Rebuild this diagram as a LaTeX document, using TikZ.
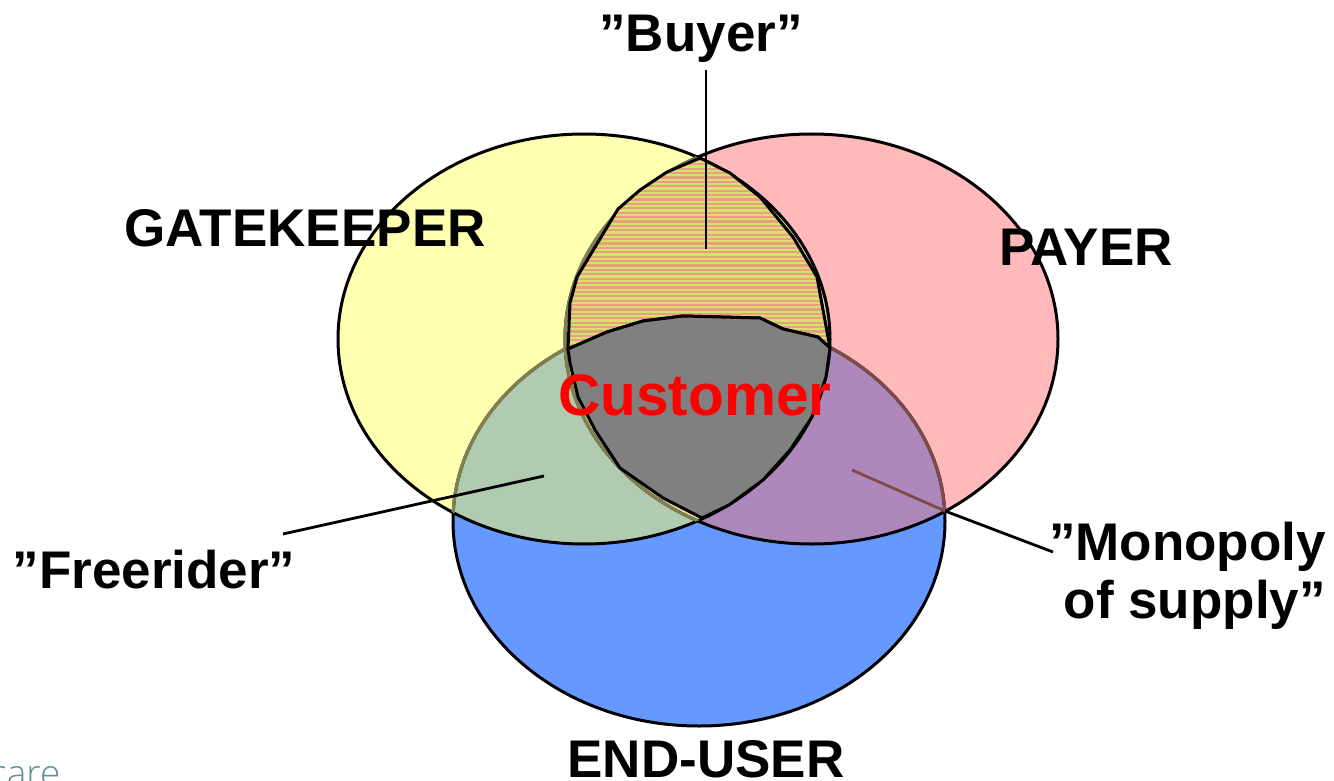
\documentclass[tikz,border=0pt]{standalone}
\usepackage{fontspec}
\setmainfont{Liberation Sans}
\newfontfamily\carefont{Open Sans Light}
\definecolor{yel}{HTML}{FFFFB0}
\definecolor{pnk}{HTML}{FFB9BB}
\definecolor{blu}{HTML}{6699FF}
\definecolor{grn}{HTML}{B0CBB0}
\definecolor{pur}{HTML}{AE88BC}
\definecolor{gry}{HTML}{808080}
\definecolor{cream}{HTML}{EBDDA0}
\definecolor{olive}{HTML}{7F7F50}
\definecolor{brownl}{HTML}{7F4A4A}
\definecolor{stra}{HTML}{E8A080}
\definecolor{strb}{HTML}{D8E070}
\definecolor{tealt}{HTML}{5F8F98}
\tikzset{
 lab/.style={font=\bfseries\fontsize{53}{58}\selectfont,text=black,inner sep=0pt,align=center},
 edge/.style={draw=black,line width=3pt},
 leader/.style={draw=black,line width=2.8pt},
}
\def\yellowE{(584,339) ellipse [x radius=246,y radius=205]}
\def\pinkE{(811.5,339) ellipse [x radius=246.5,y radius=205]}
\def\blueE{(699,521) ellipse [x radius=246,y radius=205]}
\def\orangeP{(568,349) -- (570,303) -- (577,277) -- (618,209) -- (640,190) -- (667,172) -- (700,158) -- (730,173) -- (760,197) -- (793,237) -- (817,277) -- (828,337) -- (830,348) -- (818,337) -- (783,329) -- (760,318) -- (683,316) -- (643,321) -- (607,332) -- cycle}
\def\greyP{(568,349) -- (607,332) -- (643,321) -- (683,316) -- (760,318) -- (783,329) -- (818,337) -- (830,348) -- (826,377) -- (812,417) -- (790,450) -- (763,480) -- (729,505) -- (702,518) -- (663,498) -- (620,468) -- (595,430) -- (578,397) -- (570,363) -- cycle}
\begin{document}
\begin{tikzpicture}[x=1pt,y=-1pt]
\useasboundingbox (0,0) rectangle (1334,781);
\fill[yel] \yellowE;
\fill[pnk] \pinkE;
\begin{scope}
 \clip \yellowE; \clip \pinkE;
 \fill[cream] (560,130) rectangle (840,560);
\end{scope}
\fill[blu] \blueE;
\begin{scope}
 \clip \blueE;
 \fill[grn] \yellowE;
 \fill[pur] \pinkE;
 \begin{scope}
  \clip \yellowE; \clip \pinkE;
  \fill[cream] (560,130) rectangle (840,560);
 \end{scope}
\end{scope}
\draw[edge] \pinkE;
\draw[edge] \yellowE;
\draw[edge] \blueE;
% the outlines lying inside another circle show dimmed
\begin{scope}
 \clip \yellowE;
 \draw[olive,line width=3.2pt] \blueE;
 \draw[olive,line width=3.2pt] \pinkE;
\end{scope}
\begin{scope}
 \clip \pinkE;
 \draw[brownl,line width=3.2pt] \blueE;
\end{scope}
\begin{scope}
 \clip \orangeP;
 \fill[strb] (560,150) rectangle (840,360);
 \foreach \k in {0,...,50} {
  \fill[stra] (560,150+4.4*\k) rectangle (840,152.2+4.4*\k);
 }
\end{scope}
\draw[edge,line join=round] \orangeP;
\draw[edge,fill=gry,line join=round] \greyP;
\coordinate (buyerEnd) at (706,249);
\coordinate (buyerTop) at (706,70);
\coordinate (freeEnd) at (544,476);
\coordinate (freeStart) at (283,534);
\coordinate (monoEnd) at (852,470);
\coordinate (monoMid) at (945,511);
\coordinate (monoStart) at (1053,552);
\node[lab] (buyer) at (701,39) {”Buyer”};
\node[lab] (gate) at (305,228) {GATEKEEPER};
\node[lab] (payer) at (1086,247) {PAYER};
\node[lab] (free) at (154,570) {”Freerider”};
\node[lab,align=right,anchor=east] (mono) at (1326,576) {”Monopoly\\of supply”};
\node[lab,anchor=base] (end) at (706,777) {END-USER};
\node[lab,text=red,font=\bfseries\fontsize{58.5}{60}\selectfont] (cust) at (695,395) {Customer};
\draw[leader] (buyerTop) -- (buyerEnd);
\draw[leader] (freeStart) -- (freeEnd);
\draw[leader] (monoMid) -- (monoStart);
\draw[line width=2.8pt,draw=brownl] (monoEnd) -- (monoMid);
\node[font=\carefont\fontsize{37}{37}\selectfont,text=tealt,anchor=base west,inner sep=0pt] (care) at (-11,786) {care};
\end{tikzpicture}
\end{document}
